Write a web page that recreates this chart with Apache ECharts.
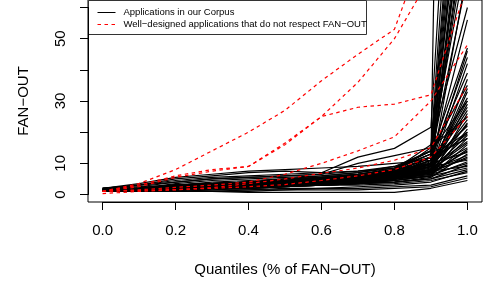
<!DOCTYPE html>
<html><head><meta charset="utf-8">
<script src="https://cdn.jsdelivr.net/npm/echarts/dist/echarts.min.js"></script>
<style>html,body{margin:0;padding:0;background:#fff}#c{width:483px;height:283px}</style>
</head><body><div id="c"></div>
<script>
// Quantile positions (x)
const quantiles = [0, 0.1, 0.2, 0.3, 0.4, 0.5, 0.6, 0.7, 0.8, 0.9, 1.0];
// Tick labels
const xTickLabels = ['0.0', '0.2', '0.4', '0.6', '0.8', '1.0'];
const yLabelledTicks = [0, 10, 30, 50];
// Legend / axis texts
const legendLabels = ['Applications in our Corpus', 'Well\u2212designed applications that do not respect FAN\u2212OUT'];
const xTitle = 'Quantiles (% of FAN\u2212OUT)';
const yTitle = 'FAN\u2212OUT';

// Applications in our corpus (FAN-OUT at each quantile)
const app01 = [2, 3.5, 5.5, 6.5, 7.5, 8, 8.5, 9, 10, 11, 700];
const app02 = [2, 3, 5, 6, 7, 7.5, 7, 12, 14.8, 21.6, 212];
const app03 = [1.5, 2.5, 4, 5, 5.5, 6, 6.5, 10, 12.5, 15, 185];
const app04 = [1.5, 2, 3.5, 4.5, 5, 5.5, 6, 7, 9, 14, 160];
const app05 = [1, 2, 3, 3.5, 4, 4.5, 5, 6, 8, 13, 150];
const app06 = [1, 1.5, 2.5, 3, 3.5, 4, 5, 6, 7, 12, 141];
const app07 = [1.5, 2, 3, 3.5, 4, 5, 5.5, 6.5, 8, 10, 135];
const app08 = [1, 1.5, 2, 2.5, 3, 3.5, 4, 5, 6, 9, 127];
const app09 = [1, 2, 2.5, 3, 3.5, 4, 4.5, 5.5, 7, 11, 120];
const app10 = [1, 1.5, 2, 3, 3.5, 4, 5, 6, 7.5, 12, 115];
const app11 = [1.5, 2, 2.5, 3, 4, 4.5, 5, 5.5, 6.5, 8, 110];
const app12 = [1, 1.5, 2, 2.5, 3, 3.5, 4, 4.5, 5.5, 7, 106];
const app13 = [1, 1, 1.5, 2, 2.5, 3, 3.5, 4, 5, 8, 102];
const app14 = [2, 2.5, 3, 4, 4.5, 5, 6, 7, 8.5, 13, 98];
const app15 = [1, 1.5, 2, 2, 2.5, 3, 3.5, 4.5, 6, 9, 94];
const app16 = [1.5, 2, 2.5, 3, 3.5, 4, 4.5, 5, 6, 10, 90];
const app17 = [1, 1.5, 2, 2.5, 3, 3.5, 4, 5, 6.5, 11, 85];
const app18 = [1, 2, 2.5, 3, 3.5, 4.5, 5.5, 6.5, 8, 14, 78];
const app19 = [1, 1.5, 2, 2.5, 3, 3, 3.5, 4, 5, 7, 72];
const app20 = [1.5, 2, 3, 3.5, 4, 4.5, 5, 6, 7.5, 12, 70];
const app21 = [1, 1.5, 2, 3, 3.5, 4, 4.5, 5.5, 7, 10, 56];
const app22 = [1, 2, 3, 3.5, 4, 5, 5.5, 6.5, 8, 13, 47];
const app23 = [1, 1.5, 2, 2.5, 3, 3.5, 4.5, 5, 6.5, 9, 46];
const app24 = [1.5, 2, 2.5, 3, 3.5, 4, 5, 6, 7, 11, 44];
const app25 = [1, 1.5, 2, 2.5, 3, 3.5, 4, 5, 6, 8, 42];
const app26 = [1, 1.5, 2.5, 3, 3.5, 4, 5, 6, 7.5, 12, 39];
const app27 = [1, 1, 1.5, 2, 2.5, 3, 3.5, 4, 5, 7, 37];
const app28 = [1.5, 2, 3, 3.5, 4, 4.5, 5.5, 6.5, 8.5, 14, 35];
const app29 = [1, 1.5, 2, 2.5, 3, 3.5, 4, 4.5, 5.5, 8, 34];
const app30 = [1, 1.5, 2, 2, 2.5, 3, 3.5, 4, 5, 6.5, 33];
const app31 = [1, 2, 2.5, 3, 3.5, 4, 4.5, 5, 6.5, 10, 31];
const app32 = [1.5, 2, 2.5, 3, 3.5, 4, 4.5, 5.5, 7, 9, 30];
const app33 = [1, 1.5, 2, 2.5, 3, 3, 3.5, 4, 5, 7.5, 29];
const app34 = [1, 1.5, 2, 3, 3.5, 4, 5, 5.5, 6.5, 10, 28];
const app35 = [1, 1, 1.5, 2, 2, 2.5, 3, 3.5, 4.5, 6, 26];
const app36 = [1.5, 2, 3, 3.5, 4, 4.5, 5, 6, 7.5, 12, 25];
const app37 = [1, 1.5, 2, 2.5, 3, 3.5, 4, 5, 6, 8.5, 24];
const app38 = [1, 1.5, 2, 2.5, 3, 3.5, 4, 4.5, 5.5, 7, 23];
const app39 = [1, 1.5, 2.5, 3, 3.5, 4, 4.5, 5.5, 7, 11, 22];
const app40 = [1, 1, 1.5, 2, 2.5, 3, 3.5, 4, 5, 6, 21];
const app41 = [1.5, 2, 2.5, 3, 3.5, 4, 5, 6, 7, 9.5, 20];
const app42 = [1, 1.5, 2, 2.5, 3, 3.5, 4, 4.5, 5.5, 8, 19];
const app43 = [1, 1.5, 2, 2, 2.5, 3, 3.5, 4, 5, 7, 18];
const app44 = [1, 1.5, 2, 2.5, 3, 4, 4.5, 5, 6, 9, 17];
const app45 = [1, 1, 1.5, 2, 2.5, 3, 3.5, 4, 4.5, 6, 16];
const app46 = [1.5, 2, 2.5, 3, 3.5, 4, 4.5, 5, 6.5, 8.5, 15];
const app47 = [1, 1.5, 2, 2.5, 3, 3.5, 4, 4.5, 5, 7, 14];
const app48 = [1, 1, 1.5, 2, 2, 2.5, 3, 3.5, 4, 5.5, 13];
const app49 = [1, 1.5, 2, 2.5, 3, 3.5, 4, 5, 6, 8, 12.5];
const app50 = [1, 1.5, 2, 2, 2.5, 3, 3.5, 4, 5, 7, 12];
const app51 = [1.5, 2, 2.5, 3, 3.5, 4, 4.5, 5.5, 6.5, 9, 11];
const app52 = [1, 1, 1.5, 2, 2.5, 3, 3, 3.5, 4.5, 6, 10.5];
const app53 = [1, 1.5, 2, 2.5, 2.5, 3, 3.5, 4, 5, 6.5, 10];
const app54 = [1, 1, 1.5, 1.5, 2, 2.5, 3, 3.5, 4, 5, 9.5];
const app55 = [1, 1.5, 2, 2.5, 3, 3.5, 4, 4.5, 5.5, 7.5, 9];
const app56 = [1, 1, 1.5, 2, 2, 2.5, 3, 3.5, 4, 5, 8];
const app57 = [1, 1, 1, 1.5, 1.5, 2, 2, 2.5, 3, 4, 7.5];
const app58 = [1, 1, 1.5, 2, 2, 2.5, 3, 3, 3.5, 4.5, 7];
const app59 = [1, 1, 1, 1, 1.5, 1.5, 2, 2, 2.5, 3, 6];
const app60 = [1, 1, 1, 1, 1, 1.5, 1.5, 1.5, 2, 2.5, 5.3];
const app61 = [1, 1, 1, 1, 0.7, 0.7, 0.7, 0.7, 0.7, 2, 4.5];
const app62 = [1, 1.5, 2, 2.5, 3, 3.5, 4, 5, 6, 12, 20];
const app63 = [1.5, 2, 3, 3.5, 4, 4.5, 5, 6, 7, 15, 25];
const app64 = [1, 1.5, 2, 3, 3.5, 4, 5, 6, 8, 16, 60];
const app65 = [2, 3, 4.5, 5.5, 6, 6.5, 7, 7.5, 8.5, 14, 30];
const app66 = [2, 3, 4, 5, 5.5, 6, 6.5, 7.5, 9, 12, 18];
const app67 = [1, 1.5, 2, 2.5, 3, 3.5, 4, 5, 6.5, 9.5, 22.5];
const app68 = [1, 1.5, 2.5, 3, 3.5, 4, 4.5, 5, 6, 8, 16.5];
const app69 = [1.5, 2, 2.5, 3, 4, 4.5, 5, 6, 7, 10.5, 19.5];
const app70 = [1, 1, 1.5, 2, 2.5, 3, 3.5, 4, 5, 6.5, 14.5];
const app71 = [1, 1.5, 2, 2.5, 3, 3.5, 4, 4.5, 5.5, 7.5, 11.5];
const app72 = [1.5, 2, 3, 3.5, 4, 4.5, 5, 5.5, 6.5, 9, 27];
const app73 = [1, 1.5, 2, 2.5, 3, 3.5, 4.5, 5.5, 7, 10, 13.5];
const app74 = [1, 1, 1.5, 2, 2.5, 3, 3.5, 4, 4.5, 6, 8.5];
const corpusApps = [app01, app02, app03, app04, app05, app06, app07, app08, app09, app10,
  app11, app12, app13, app14, app15, app16, app17, app18, app19, app20,
  app21, app22, app23, app24, app25, app26, app27, app28, app29, app30,
  app31, app32, app33, app34, app35, app36, app37, app38, app39, app40,
  app41, app42, app43, app44, app45, app46, app47, app48, app49, app50,
  app51, app52, app53, app54, app55, app56, app57, app58, app59, app60,
  app61, app62, app63, app64, app65, app66, app67, app68, app69, app70,
  app71, app72, app73, app74];

// Well-designed applications that do not respect FAN-OUT
const good1 = [1, 3.5, 8, 14, 20, 27, 36.5, 45, 53, 85, 200];
const good2 = [1, 3, 6, 8, 9, 16.5, 25, 36, 50, 70, 160];
const good3 = [1, 2.5, 5.5, 7.5, 9, 16, 25, 28, 29, 32, 67];
const good4 = [1, 1.5, 2.3, 3, 4, 6.5, 10, 14, 18.5, 30, 48];
const good5 = [0.3, 1, 1.5, 2.2, 3.5, 5, 6.8, 8.5, 11, 15, 35];
const good6 = [1, 1.3, 1.6, 2, 2.5, 3.2, 4.5, 6, 8, 12, 25];
const wellDesigned = [good1, good2, good3, good4, good5, good6];

const FONT = 'Liberation Sans, Arial, Helvetica, sans-serif';
const chart = echarts.init(document.getElementById('c'), null, {renderer: 'canvas'});

function toPairs(vals) { return quantiles.map((q, i) => [q, vals[i]]); }

const series = [];
corpusApps.forEach((a, i) => series.push({
  type: 'line', name: 'corpus' + i, xAxisIndex: 0, yAxisIndex: 0,
  data: toPairs(a), symbol: 'none', silent: true, clip: true,
  lineStyle: {color: '#000', width: 1.2}, z: 2
}));
wellDesigned.forEach((a, i) => series.push({
  type: 'line', name: 'good' + i, xAxisIndex: 0, yAxisIndex: 0,
  data: toPairs(a), symbol: 'none', silent: true, clip: true,
  lineStyle: {color: '#ff0000', width: 1.2, type: [3.5, 3.5]}, z: 3
}));

const option = {
  animation: false,
  backgroundColor: '#fff',
  grid: [
    {left: 88, top: 0, width: 394, height: 202, show: true, borderColor: '#000', borderWidth: 1, backgroundColor: 'transparent'},
    {left: 102.6, top: 0, width: 364.8, height: 202},
    {left: 88, top: 7.48, width: 394, height: 187}
  ],
  xAxis: [
    {gridIndex: 0, type: 'value', min: -0.04, max: 1.04, show: false},
    {gridIndex: 1, type: 'value', min: 0, max: 1, interval: 0.2,
      axisLine: {show: true, lineStyle: {color: '#000', width: 1}},
      axisTick: {show: true, length: 8, lineStyle: {color: '#000', width: 1}},
      splitLine: {show: false},
      axisLabel: {show: true, margin: 21, color: '#000', fontFamily: FONT, fontSize: 15,
        showMinLabel: true, showMaxLabel: true,
        formatter: v => xTickLabels[Math.round(v / 0.2)]},
      name: xTitle, nameLocation: 'middle', nameGap: 60,
      nameTextStyle: {color: '#000', fontFamily: FONT, fontSize: 15}},
    {gridIndex: 2, type: 'value', min: 0, max: 1, show: false}
  ],
  yAxis: [
    {gridIndex: 0, type: 'value', min: -2.4, max: 62.4, show: false},
    {gridIndex: 1, type: 'value', min: 0, max: 1, show: false},
    {gridIndex: 2, type: 'value', min: 0, max: 60, interval: 10,
      axisLine: {show: true, lineStyle: {color: '#000', width: 1}},
      axisTick: {show: true, length: 8, lineStyle: {color: '#000', width: 1}},
      splitLine: {show: false},
      axisLabel: {show: true, rotate: 90, margin: 20, color: '#000', fontFamily: FONT, fontSize: 15,
        showMinLabel: true, showMaxLabel: true,
        formatter: v => yLabelledTicks.includes(v) ? String(v) : ''},
      name: yTitle, nameLocation: 'middle', nameGap: 57, nameRotate: 90,
      nameTextStyle: {color: '#000', fontFamily: FONT, fontSize: 15}}
  ],
  series: series,
  graphic: [
    {type: 'group', left: 88, top: 0, z: 100, children: [
      {type: 'rect', shape: {x: 0, y: 0, width: 278, height: 34},
        style: {fill: '#fff', stroke: '#333', lineWidth: 1}},
      {type: 'line', shape: {x1: 9, y1: 12, x2: 27, y2: 12}, style: {stroke: '#000', lineWidth: 1}},
      {type: 'line', shape: {x1: 9, y1: 24, x2: 27, y2: 24}, style: {stroke: '#ff0000', lineWidth: 1, lineDash: [3.5, 3.5]}},
      {type: 'text', x: 35, y: 12, style: {text: legendLabels[0], fill: '#000', font: '9.5px ' + FONT, textVerticalAlign: 'middle', verticalAlign: 'middle'}},
      {type: 'text', x: 35, y: 24, style: {text: legendLabels[1], fill: '#000', font: '9.5px ' + FONT, textVerticalAlign: 'middle', verticalAlign: 'middle'}}
    ]}
  ]
};
chart.setOption(option);
</script></body></html>
